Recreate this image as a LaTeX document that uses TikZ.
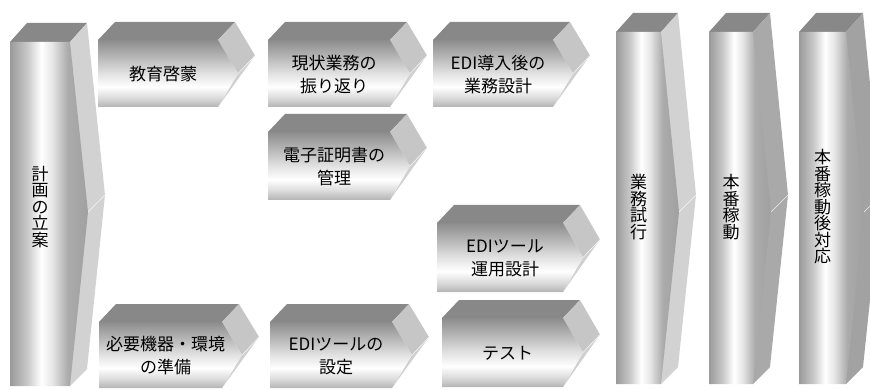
\documentclass[tikz,border=0pt]{standalone}
\usepackage{fontspec}
\setmainfont{Noto Sans CJK JP}
\definecolor{hb}{HTML}{B4B4B4}
\definecolor{hl}{HTML}{DCDCDC}
\definecolor{hm}{HTML}{E2E2E2}
\definecolor{hu}{HTML}{B8B8B8}
\definecolor{ht}{HTML}{8C8C8C}
\definecolor{vl}{HTML}{9A9A9A}
\definecolor{vll}{HTML}{C8C8C8}
\definecolor{vm}{HTML}{E6E6E6}
\definecolor{vr}{HTML}{ABABAB}
\definecolor{vrr}{HTML}{A0A0A0}
\definecolor{topc}{HTML}{888888}
\definecolor{sidelight}{HTML}{D2D2D2}
\definecolor{sidemid}{HTML}{A9A9A9}
\definecolor{sidedark}{HTML}{A2A2A2}
\definecolor{chevup}{HTML}{C6C6C6}
\definecolor{chevlo}{HTML}{D0D0D0}
\pgfdeclareverticalshading{hface}{100bp}{color(0bp)=(hb); color(25bp)=(hb); color(32bp)=(hl); color(40bp)=(white); color(50bp)=(hm); color(62bp)=(hu); color(75bp)=(ht); color(100bp)=(ht)}
\pgfdeclarehorizontalshading{vface}{100bp}{color(0bp)=(vl); color(25bp)=(vl); color(36bp)=(vll); color(45bp)=(white); color(52bp)=(vm); color(62bp)=(vr); color(75bp)=(vrr); color(100bp)=(vrr)}
\tikzset{
  topface/.style={fill=topc},
  foldline/.style={draw=white, line width=0.5pt, opacity=0.8},
  hlabel/.style={align=center, font=\fontsize{17}{23}\selectfont, inner sep=0pt},
  vlabel/.style={align=center, font=\fontsize{17}{16.5}\selectfont, inner sep=0pt},
}
\newcommand\chev[6]{%
  \fill[topface] (#2,#3) -- ({#2+17},{#3-18}) -- ({#4+17},{#3-18}) -- (#4,#3) -- cycle;
  \fill[chevup] (#4,#3) -- ({#4+17},{#3-18}) -- ({#4+37},{(#3+#5)/2-18}) -- ({#4+20},{(#3+#5)/2}) -- cycle;
  \fill[chevlo] ({#4+20},{(#3+#5)/2}) -- ({#4+37},{(#3+#5)/2-18}) -- (#4,#5) -- cycle;
  \shade[shading=hface] (#2,#3) -- (#4,#3) -- ({#4+20},{(#3+#5)/2}) -- (#4,#5) -- (#2,#5) -- cycle;
  \draw[foldline] ({#4+20},{(#3+#5)/2}) -- ({#4+37},{(#3+#5)/2-18});
  \node[hlabel] (#1) at ({(#2+#4)/2+5},{(#3+#5)/2+1}) {#6};
}
\newcommand\col[7]{%
  \fill[topface] (#2,#3) -- ({#2+17},{#3-19}) -- ({#4+17},{#3-19}) -- (#4,#3) -- cycle;
  \fill[#7] (#4,#3) -- ({#4+17},{#3-19}) -- ({#4+35},195) -- ({#4+17},{#5-17}) -- (#4,#5) -- cycle;
  \shade[shading=vface] (#2,#3) -- (#4,#3) -- ({#4+18},212) -- (#4,#5) -- (#2,#5) -- cycle;
  \draw[foldline] ({#4+18},212) -- ({#4+35},195);
  \node[vlabel] (#1) at ({(#2+#4)/2},207) {#6};
}
\begin{document}
\begin{tikzpicture}[x=1pt,y=-1pt]
\useasboundingbox (0,0) rectangle (870,390);
\clip (0,0) rectangle (870,390);
\col{plan}{10}{42}{70}{386}{計\\画\\の\\立\\案}{sidelight}
\chev{edu}{98}{40}{218}{107}{教育啓蒙}
\chev{review}{268}{40}{390}{107}{現状業務の\\振り返り}
\chev{design}{433}{40}{553}{107}{EDI導入後の\\業務設計}
\chev{cert}{268}{132}{390}{200}{電子証明書の\\管理}
\chev{ops}{437}{223}{563}{292}{EDIツール\\運用設計}
\chev{equip}{99}{322}{222}{388}{必要機器・環境\\の準備}
\chev{setup}{270}{322}{392}{388}{EDIツールの\\設定}
\chev{test}{442}{318}{563}{387}{テスト}
\col{trial}{616}{32}{661}{384}{業\\務\\試\\行}{sidelight}
\col{golive}{709}{32}{753}{384}{本\\番\\稼\\動}{sidemid}
\col{after}{799}{32}{846}{384}{本\\番\\稼\\動\\後\\対\\応}{sidedark}
\end{tikzpicture}
\end{document}
